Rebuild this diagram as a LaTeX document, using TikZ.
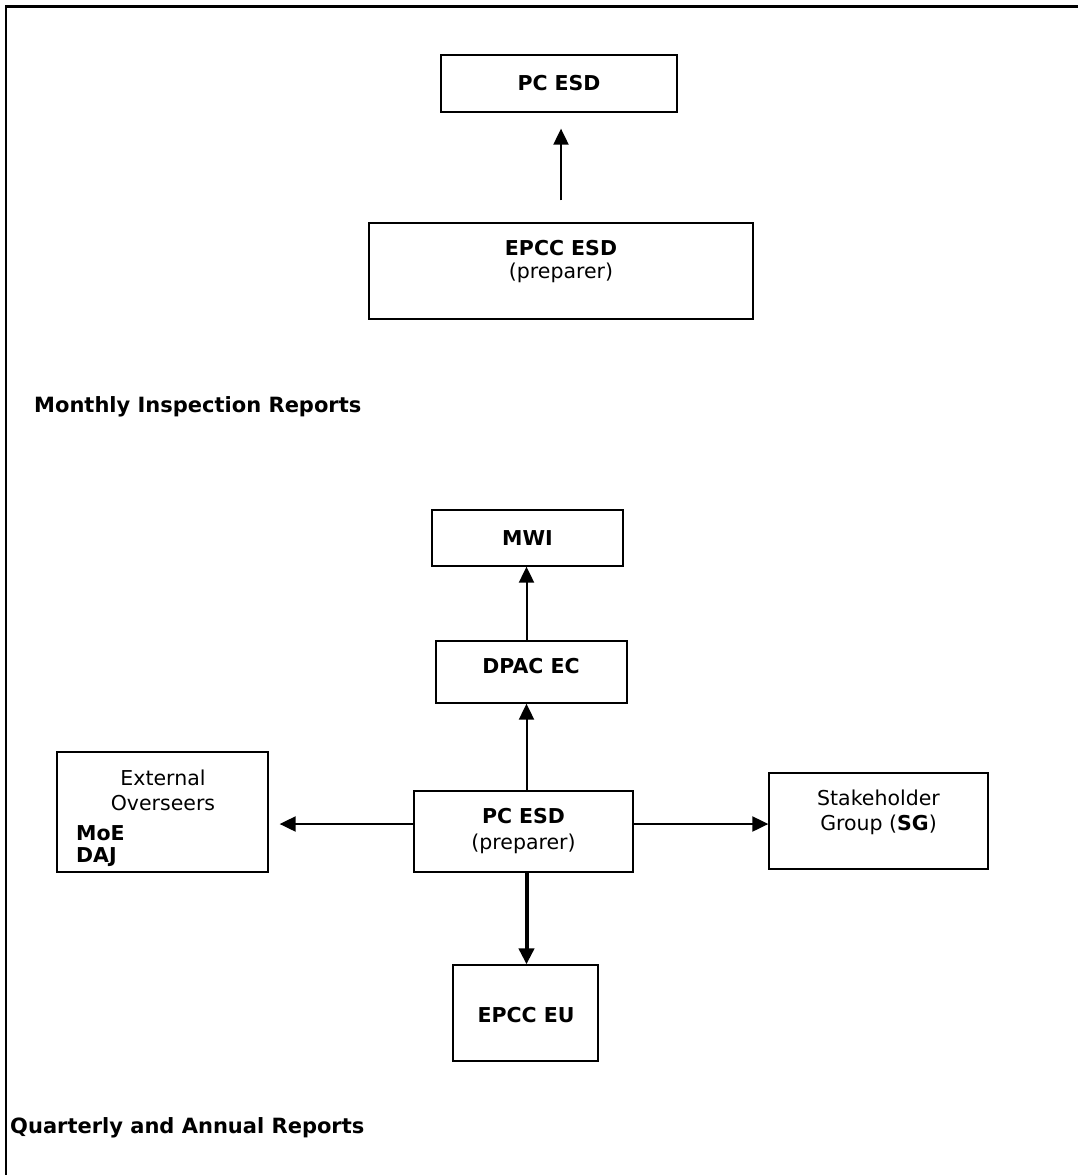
\documentclass[tikz,border=0pt]{standalone}
\usepackage{fontspec}
\setmainfont{DejaVu Sans}
\usetikzlibrary{arrows.meta}
\tikzset{
  box/.style={draw=black, line width=1.3pt, rectangle, inner sep=0pt},
  lab/.style={inner sep=0pt, text height=15pt, text depth=0pt, font=\fontsize{20.5}{23}\selectfont},
  labl/.style={lab, anchor=west},
  heading/.style={labl, font=\fontsize{21}{24}\selectfont\bfseries},
  arr/.style={line width=2pt, -{Triangle[length=16pt,width=15pt]}},
  thickarr/.style={line width=4pt, -{Triangle[length=16pt,width=15pt]}},
  frame/.style={line width=2.5pt}
}
\begin{document}
\begin{tikzpicture}[x=1pt,y=-1pt]
\useasboundingbox (0,0) rectangle (1078,1175);
% open frame along the top and left edges
\draw[frame] (1078,6.5) -- (6,6.5) -- (6,1175);

% monthly reporting chain
\node[box, minimum width=236pt, minimum height=57pt] (pcesdA) at (559,83.5) {};
\node[lab] (pcesdAt) at (559,83) {\bfseries PC ESD};
\node[box, minimum width=384pt, minimum height=96pt] (epccesd) at (561,271) {};
\node[lab] (epccesdt) at (561,248) {\bfseries EPCC ESD};
\node[lab] (epccesdp) at (561,271) {(preparer)};
\draw[arr, shorten <=22pt, shorten >=16pt] (epccesd.north) -- (epccesd.north |- pcesdA.south);
\node[heading] (monthly) at (34,405) {Monthly Inspection Reports};

% quarterly and annual reporting
\node[box, minimum width=191pt, minimum height=56pt] (mwi) at (527.5,538) {};
\node[lab] (mwit) at (527.5,538) {\bfseries MWI};
\node[box, minimum width=191pt, minimum height=62pt] (dpac) at (531.5,672) {};
\node[lab] (dpact) at (531,666) {\bfseries DPAC EC};
\node[box, minimum width=219pt, minimum height=81pt] (pcesdB) at (523.5,831.5) {};
\node[lab] (pcesdBt) at (523.5,816) {\bfseries PC ESD};
\node[lab] (pcesdBp) at (523.5,842) {(preparer)};
\node[box, minimum width=211pt, minimum height=120pt] (ext) at (162.5,812) {};
\node[lab] (extA) at (163,778) {External};
\node[lab] (extB) at (163,803) {Overseers};
\node[labl] (moe) at (76,833) {\bfseries MoE};
\node[labl] (daj) at (76,855) {\bfseries DAJ};
\node[box, minimum width=219pt, minimum height=96pt] (sg) at (878.5,821) {};
\node[lab] (sgA) at (878.5,798) {Stakeholder};
\node[lab] (sgB) at (878.5,823) {Group (\textbf{SG})};
\node[box, minimum width=145pt, minimum height=96pt] (eu) at (525.5,1013) {};
\node[lab] (eut) at (526,1015) {\bfseries EPCC EU};
\node[heading] (quarterly) at (10,1126) {Quarterly and Annual Reports};

\coordinate (vx) at (526.5,0);
\draw[arr] (vx |- pcesdB.north) -- (vx |- dpac.south);
\draw[arr] (vx |- dpac.north) -- (vx |- mwi.south);
\coordinate (hy) at (0,824);
\draw[arr, shorten >=11pt] (pcesdB.west |- hy) -- (ext.east |- hy);
\draw[arr] (pcesdB.east |- hy) -- (sg.west |- hy);
\draw[thickarr] (vx |- pcesdB.south) -- (vx |- eu.north);
\end{tikzpicture}
\end{document}
